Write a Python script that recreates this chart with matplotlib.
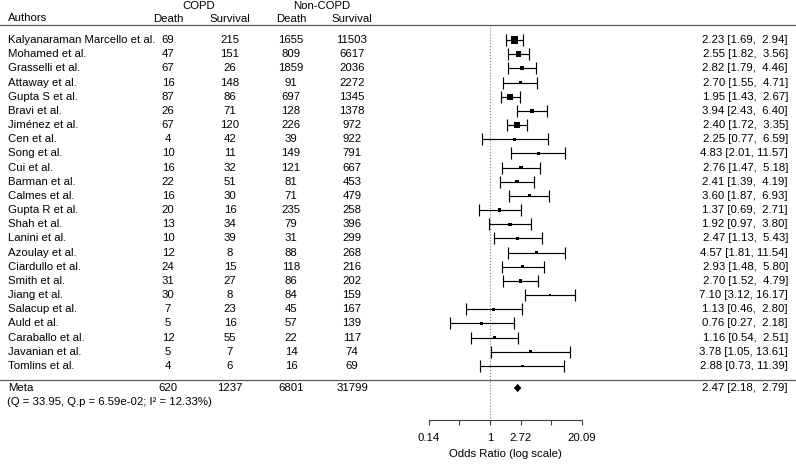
import numpy as np
import matplotlib.pyplot as plt

plt.rcParams['font.family'] = ['Liberation Sans', 'DejaVu Sans']

# study data
authors = ['Kalyanaraman Marcello et al.', 'Mohamed et al.', 'Grasselli et al.', 'Attaway et al.',
           'Gupta S et al.', 'Bravi et al.', 'Jiménez et al.', 'Cen et al.', 'Song et al.',
           'Cui et al.', 'Barman et al.', 'Calmes et al.', 'Gupta R et al.', 'Shah et al.',
           'Lanini et al.', 'Azoulay et al.', 'Ciardullo et al.', 'Smith et al.', 'Jiang et al.',
           'Salacup et al.', 'Auld et al.', 'Caraballo et al.', 'Javanian et al.', 'Tomlins et al.']
copd_death = [69, 47, 67, 16, 87, 26, 67, 4, 10, 16, 22, 16, 20, 13, 10, 12, 24, 31, 30, 7, 5, 12, 5, 4]
copd_surv = [215, 151, 26, 148, 86, 71, 120, 42, 11, 32, 51, 30, 16, 34, 39, 8, 15, 27, 8, 23, 16, 55, 7, 6]
non_death = [1655, 809, 1859, 91, 697, 128, 226, 39, 149, 121, 81, 71, 235, 79, 31, 88, 118, 86, 84,
             45, 57, 22, 14, 16]
non_surv = [11503, 6617, 2036, 2272, 1345, 1378, 972, 922, 791, 667, 453, 479, 258, 396, 299, 268,
            216, 202, 159, 167, 139, 117, 74, 69]
odds_ratio = [2.23, 2.55, 2.82, 2.70, 1.95, 3.94, 2.40, 2.25, 4.83, 2.76, 2.41, 3.60, 1.37, 1.92,
              2.47, 4.57, 2.93, 2.70, 7.10, 1.13, 0.76, 1.16, 3.78, 2.88]
ci_low = [1.69, 1.82, 1.79, 1.55, 1.43, 2.43, 1.72, 0.77, 2.01, 1.47, 1.39, 1.87, 0.69, 0.97,
          1.13, 1.81, 1.48, 1.52, 3.12, 0.46, 0.27, 0.54, 1.05, 0.73]
ci_high = [2.94, 3.56, 4.46, 4.71, 2.67, 6.40, 3.35, 6.59, 11.57, 5.18, 4.19, 6.93, 2.71, 3.80,
           5.43, 11.54, 5.80, 4.79, 16.17, 2.80, 2.18, 2.51, 13.61, 11.39]
meta_or, meta_lo, meta_hi = 2.47, 2.18, 2.79
het_text = '(Q = 33.95, Q.p = 6.59e-02; I² = 12.33%)'
tick_pos = [-2, -1, 0, 1, 2, 3]
tick_lab = ['0.14', '', '1', '2.72', '', '20.09']

fs = 8.2
W, H = 796, 466
px_unit = 30.6      # pixels per log unit
x0 = 490            # pixel of log(OR) = 0
row_px = 14.17

fig = plt.figure(figsize=(W / 100, H / 100), dpi=100)
ax = fig.add_axes([0, 0, 1, 1])
ax.set_xlim(-x0 / px_unit, (W - x0) / px_unit)
ax.set_ylim((H - 40) / row_px, -40 / row_px)

rows = np.arange(len(authors))
y_meta = 24.56
y_axis = 26.8
tr = ax.get_yaxis_transform()

# column text
col_x = [168 / W, 230 / W, 291 / W, 352 / W]
for i, r in enumerate(rows):
    ax.text(8 / W, r, authors[i], transform=tr, ha='left', va='center', fontsize=fs)
    for cx, vals in zip(col_x, [copd_death, copd_surv, non_death, non_surv]):
        ax.text(cx, r, str(vals[i]), transform=tr, ha='center', va='center', fontsize=fs)
    txt = '%.2f [%.2f, %s]' % (odds_ratio[i], ci_low[i], ('%.2f' % ci_high[i]).rjust(5))
    ax.text(788 / W, r, txt, transform=tr, ha='right', va='center', fontsize=fs)

# headers
ax.text(8 / W, -1.52, 'Authors', transform=tr, ha='left', va='center', fontsize=fs)
for cx, lab in zip(col_x, ['Death', 'Survival', 'Death', 'Survival']):
    ax.text(cx, -1.5, lab, transform=tr, ha='center', va='center', fontsize=fs)
ax.text((col_x[0] + col_x[1]) / 2, -2.42, 'COPD', transform=tr, ha='center', va='center', fontsize=fs)
ax.text((col_x[2] + col_x[3]) / 2, -2.42, 'Non-COPD', transform=tr, ha='center', va='center', fontsize=fs)

ax.axhline(-1.06, color='0.35', lw=0.9)
ax.axhline(24.0, color='0.35', lw=0.9)

# meta row
ax.text(8 / W, y_meta, 'Meta', transform=tr, ha='left', va='center', fontsize=fs)
for cx, vals in zip(col_x, [copd_death, copd_surv, non_death, non_surv]):
    ax.text(cx, y_meta, str(sum(vals)), transform=tr, ha='center', va='center', fontsize=fs)
ax.text(788 / W, y_meta, '%.2f [%.2f, %s]' % (meta_or, meta_lo, ('%.2f' % meta_hi).rjust(5)),
        transform=tr, ha='right', va='center', fontsize=fs)
ax.text(7 / W, 25.55, het_text, transform=tr, ha='left', va='center', fontsize=fs)

# reference line at OR = 1
ax.plot([0, 0], [-1.06, y_axis], ls=':', color='0.5', lw=0.8)

# study estimates
est = np.log(odds_ratio)
lo = np.log(ci_low)
hi = np.log(ci_high)
ax.errorbar(est, rows, xerr=[est - lo, hi - est], fmt='none', ecolor='black',
            elinewidth=0.85, capsize=4.3, capthick=0.85)
vi = 1 / np.array(copd_death) + 1 / np.array(copd_surv) + 1 / np.array(non_death) + 1 / np.array(non_surv)
wi = 1 / vi
side = 0.55 + (wi - wi.min()) / (wi.max() - wi.min())
ax.scatter(est, rows, marker='s', s=(side * 3.3) ** 2, color='black', zorder=3, linewidths=0)

# summary diamond
ax.fill([np.log(meta_lo), np.log(meta_or), np.log(meta_hi), np.log(meta_or)],
        [y_meta, y_meta - 0.29, y_meta, y_meta + 0.29], color='black', lw=0)

# bottom axis
for s in ['top', 'left', 'right']:
    ax.spines[s].set_visible(False)
ax.spines['bottom'].set_position(('data', y_axis))
ax.spines['bottom'].set_bounds(-2, 3)
ax.spines['bottom'].set_color('0.25')
ax.spines['bottom'].set_linewidth(0.8)
ax.set_xticks(tick_pos)
ax.set_xticklabels(tick_lab)
ax.tick_params(axis='x', direction='out', length=3.8, width=0.8, color='0.25', pad=5.5, labelsize=fs)
ax.set_yticks([])
ax.text(0.5, 29.2, 'Odds Ratio (log scale)', ha='center', va='center', fontsize=fs)

fig.savefig('out.png', dpi=100)
